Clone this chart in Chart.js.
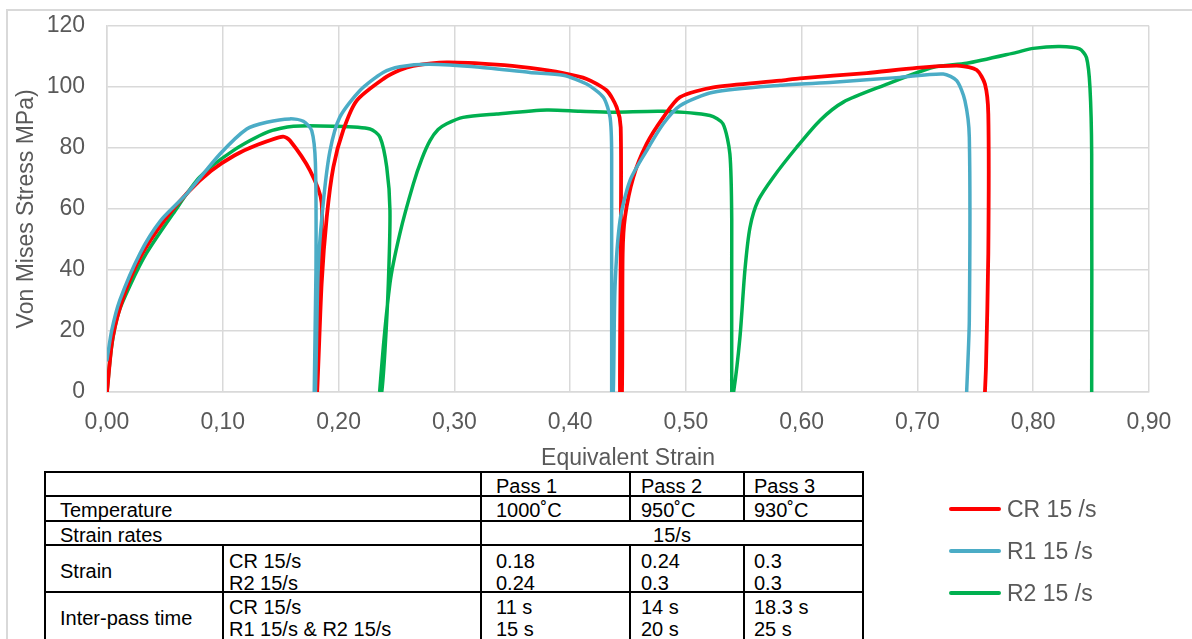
<!DOCTYPE html>
<html>
<head>
<meta charset="utf-8">
<script src="https://cdn.jsdelivr.net/npm/chart.js@4.4.1/dist/chart.umd.min.js"></script>
<style>
html,body{margin:0;padding:0;background:#fff;}
body{width:1192px;height:639px;position:relative;overflow:hidden;font-family:"Liberation Sans",Arial,sans-serif;}
#frame{position:absolute;left:6px;top:9px;width:1220px;height:700px;border:2px solid #d9d9d9;box-sizing:border-box;}
#wrap{position:absolute;left:0;top:-10px;width:1192px;height:649px;}
#tbl{position:absolute;left:44px;top:471px;border-collapse:collapse;table-layout:fixed;font-size:20px;color:#000;background:#fff;}
#tbl td{border:2px solid #000;padding:0;white-space:nowrap;overflow:visible;line-height:22px;vertical-align:top;}
#tbl td .t{position:relative;}
#tbl tr.r1 td{height:22px;}
#tbl tr.r2 td{height:23px;}
#tbl tr.r3 td{height:22px;}
#tbl tr.r4 td{height:45px;}
#tbl tr.r5 td{height:46px;}
.o1{top:2px;} .o2{top:2px;} .o3{top:2px;} .o4{top:4px;} .o5{top:3px;} .om{top:14px;}
.c1{padding-left:14px !important;}
.c2{padding-left:5px !important;}
.p1{padding-left:14px !important;}
.p2{padding-left:10px !important;}
.p3{padding-left:9px !important;}
.ctr{text-align:center;}
#legend{position:absolute;left:948px;top:494px;}
.li{position:absolute;left:0;height:30px;width:200px;}
.li .sw{position:absolute;left:1px;top:13px;width:52px;height:4px;border-radius:2px;}
.li .tx{position:absolute;left:59px;top:0;font-size:23px;line-height:30px;color:#595959;white-space:nowrap;}
</style>
</head>
<body>
<div id="frame"></div>
<div id="wrap"><canvas id="c" width="1192" height="649"></canvas></div>
<table id="tbl">
<colgroup><col style="width:178px"><col style="width:258px"><col style="width:149px"><col style="width:114px"><col style="width:119px"></colgroup>
<tr class="r1"><td colspan="2"></td><td class="p1"><div class="t o1">Pass 1</div></td><td class="p2"><div class="t o1">Pass 2</div></td><td class="p3"><div class="t o1">Pass 3</div></td></tr>
<tr class="r2"><td colspan="2" class="c1"><div class="t o2">Temperature</div></td><td class="p1"><div class="t o2">1000˚C</div></td><td class="p2"><div class="t o2">950˚C</div></td><td class="p3"><div class="t o2">930˚C</div></td></tr>
<tr class="r3"><td colspan="2" class="c1"><div class="t o3">Strain rates</div></td><td colspan="3" class="ctr"><div class="t o3">15/s</div></td></tr>
<tr class="r4"><td class="c1"><div class="t om">Strain</div></td><td class="c2"><div class="t o4">CR 15/s<br>R2 15/s</div></td><td class="p1"><div class="t o4">0.18<br>0.24</div></td><td class="p2"><div class="t o4">0.24<br>0.3</div></td><td class="p3"><div class="t o4">0.3<br>0.3</div></td></tr>
<tr class="r5"><td class="c1"><div class="t om">Inter-pass time</div></td><td class="c2"><div class="t o5">CR 15/s<br>R1 15/s &amp; R2 15/s</div></td><td class="p1"><div class="t o5">11 s<br>15 s</div></td><td class="p2"><div class="t o5">14 s<br>20 s</div></td><td class="p3"><div class="t o5">18.3 s<br>25 s</div></td></tr>
</table>
<div id="legend"></div>
<script>
// ---- data ----
const seriesNames = ['CR 15 /s', 'R1 15 /s', 'R2 15 /s'];
const seriesColors = ['#FF0000', '#4BACC6', '#00B050'];

const strainCR = [0,0.005,0.015,0.03,0.05,0.07,0.09,0.11,0.13,0.152,0.158,0.1753,0.1854,0.1835,0.1805,0.1815,0.1854,0.1898,0.1955,0.204,0.2157,0.239,0.253,0.2646,0.2934,0.3366,0.3653,0.394,0.4143,0.4316,0.4402,0.4437,0.4437,0.4431,0.4448,0.4454,0.4474,0.4546,0.4661,0.4805,0.4949,0.5237,0.5813,0.5985,0.6562,0.6993,0.7367,0.7512,0.7583,0.7612,0.7612,0.7592,0.7583];
const stressCR = [0,18,32,45,56.5,65.5,72.5,77.5,81,83.7,82.4,72.6,62,35,0,0,35.6,57.3,73.7,85.7,95.5,102.7,105.5,106.9,108,107.3,106.2,104.5,102.6,98.8,93.3,86.7,45,0,0,45.4,57.3,70.4,81.3,90,96.6,99.8,102,102.8,104.5,106.2,106.9,105.5,100.9,91.1,45.3,8.3,0];

const strainR1 = [0,0.004,0.011,0.0285,0.046,0.069,0.0976,0.1207,0.138,0.158,0.1696,0.1768,0.18,0.1805,0.179,0.18,0.1825,0.187,0.1926,0.201,0.2185,0.2385,0.253,0.279,0.3222,0.3653,0.394,0.4143,0.4287,0.4345,0.4359,0.4359,0.4373,0.4388,0.4431,0.4517,0.4661,0.4805,0.4949,0.5237,0.5813,0.6273,0.685,0.7223,0.7339,0.741,0.7448,0.7448,0.7425];
const stressR1 = [10.5,20,30,45.4,56,65,78,86.2,88.4,89.5,88.7,85.7,75,40,0,0,41,62.8,79,90,98.8,104.7,106.6,107.4,106.4,104.7,103.8,100.9,96.6,90,78,0,0,34.4,56.2,69.3,79.1,87.9,93.8,98.2,100.5,101.5,103.1,104.2,102,95.5,83.5,23.5,0];

const strainR2 = [0,0.004,0.01,0.02,0.034,0.057,0.08,0.109,0.138,0.161,0.1955,0.2272,0.2358,0.2416,0.2444,0.243,0.2401,0.2373,0.2355,0.2444,0.253,0.2646,0.272,0.279,0.286,0.2934,0.3075,0.3366,0.3798,0.4085,0.437,0.48,0.5208,0.532,0.538,0.5396,0.5396,0.5412,0.5467,0.551,0.5554,0.5625,0.5755,0.5957,0.6158,0.636,0.6705,0.7137,0.7425,0.7857,0.8,0.823,0.84,0.846,0.849,0.8505,0.8505];
const stressR2 = [0,15,26,35,45.4,58.4,70.4,79.1,85.1,87.1,87.1,86.2,83.5,73.7,59.5,35.5,13.7,0,0,35.6,52,68.2,76.5,82.4,86,87.9,90,91.1,92.4,92,91.7,92,90.6,87.9,78,56.2,0,0,18,40,54,62.8,70.4,80.2,89,95,100.4,106.4,107.7,111.3,112.6,113.2,112.4,109.6,99.8,78,0];

const xTickLabels = ['0,00','0,10','0,20','0,30','0,40','0,50','0,60','0,70','0,80','0,90'];
const yTickLabels = ['0','20','40','60','80','100','120'];
const xTitle = 'Equivalent Strain';
const yTitle = 'Von Mises Stress MPa)';

// ---- build ----
function pts(xs, ys){ return xs.map((x,i)=>({x:x, y:ys[i]})); }
const allX = [strainCR, strainR1, strainR2];
const allY = [stressCR, stressR1, stressR2];

const datasets = seriesNames.map((n,i)=>({
  label:n,
  data: pts(allX[i], allY[i]),
  borderColor: seriesColors[i],
  backgroundColor: seriesColors[i],
  borderWidth: i === 0 ? 3.8 : 3.5,
  pointRadius: 0,
  showLine: true,
  tension: 0.25,
  fill: false,
  borderCapStyle: 'round',
  borderJoinStyle: 'round'
}));
datasets[0].order = 2; datasets[1].order = 1; datasets[2].order = 3;

const tickFont = {family:'"Liberation Sans", Arial, sans-serif', size:23};
const gridCol = '#d9d9d9';

new Chart(document.getElementById('c'), {
  type:'scatter',
  data:{datasets},
  options:{
    responsive:false,
    animation:false,
    layout:{padding:{left:8, top:11, right:43, bottom:167}},
    plugins:{legend:{display:false}, tooltip:{enabled:false}},
    scales:{
      x:{
        type:'linear', min:0, max:0.9,
        ticks:{stepSize:0.1, color:'#595959', font:tickFont, padding:17, maxRotation:0,
          callback:(v,i)=>xTickLabels[i]},
        grid:{color:gridCol, lineWidth:1.5, drawTicks:false},
        border:{color:gridCol, width:1.5},
        title:{display:true, text:xTitle, color:'#595959', font:tickFont, padding:{top:0,bottom:0}},
        afterFit:(s)=>{ s.height = 80; }
      },
      y:{
        type:'linear', min:0, max:120,
        ticks:{stepSize:20, color:'#595959', font:tickFont, padding:22,
          callback:(v,i)=>yTickLabels[i]},
        grid:{color:gridCol, lineWidth:1.5, drawTicks:false},
        border:{color:gridCol, width:1.5},
        title:{display:true, text:yTitle, color:'#595959', font:tickFont, padding:{top:5,bottom:0}},
        afterFit:(s)=>{ s.width = 99; }
      }
    }
  }
});

// legend (HTML, real text)
const lg = document.getElementById('legend');
seriesNames.forEach((n,i)=>{
  const d = document.createElement('div');
  d.className='li'; d.style.top = (i*42)+'px';
  d.innerHTML = '<div class="sw" style="background:'+seriesColors[i]+'"></div><div class="tx">'+n+'</div>';
  lg.appendChild(d);
});
</script>
</body>
</html>
